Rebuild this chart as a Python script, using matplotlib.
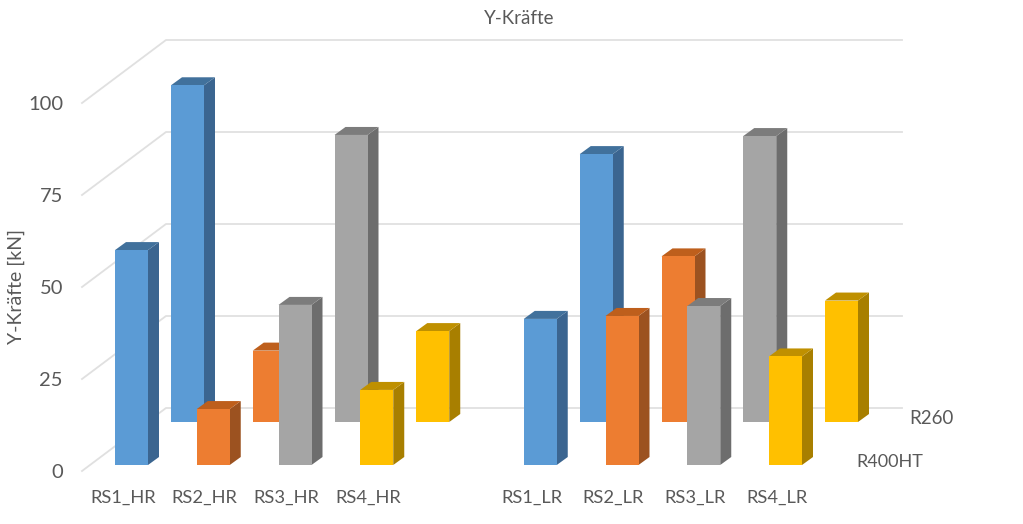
import matplotlib
matplotlib.use("Agg")
import matplotlib.pyplot as plt
from matplotlib.patches import Polygon

plt.rcParams["font.family"] = ["Lato", "DejaVu Sans"]

categories = ["RS1_HR", "RS2_HR", "RS3_HR", "RS4_HR", "RS1_LR", "RS2_LR", "RS3_LR", "RS4_LR"]
slots = [0, 1, 2, 3, 5, 6, 7, 8]
r400ht = [58.4, 15.2, 43.5, 20.4, 39.7, 40.5, 43.2, 29.5]
r260 = [91.5, 19.4, 78.0, 24.7, 72.8, 45.0, 77.7, 33.0]
ticks = [0, 25, 50, 75, 100]

front_colors = ["#5B9BD5", "#ED7D31", "#A5A5A5", "#FFC000"]
side_colors = ["#3B6590", "#9C5220", "#6D6D6D", "#A87F00"]
top_colors = ["#41719C", "#BE5F1C", "#7C7C7C", "#BF9000"]
TEXT = "#595959"
GRID = "#E0E0E0"

# pixel scale of the picture: x is in px, y is in kN
KN_PX = 3.68
X0 = 115
SLOT = 81.75
BAR_W = 33
DX, DY = 11, 8 / KN_PX
BACK_DX, BACK_DY = 56, 43 / KN_PX

fig = plt.figure(figsize=(10.23, 5.24), dpi=100)
ax = fig.add_axes([0, 0, 1, 1])
ax.set_xlim(0, 1023)
ax.set_ylim(-59 / KN_PX, 465 / KN_PX)
ax.axis("off")


def bar(x, base, val, i, z):
    top = base + val
    ax.add_patch(Polygon([(x, base), (x + BAR_W, base), (x + BAR_W, top), (x, top)],
                         fc=front_colors[i], ec="none", zorder=z + 0.2))
    ax.add_patch(Polygon([(x + BAR_W, base), (x + BAR_W + DX, base + DY),
                          (x + BAR_W + DX, top + DY), (x + BAR_W, top)],
                         fc=side_colors[i], ec="none", zorder=z))
    ax.add_patch(Polygon([(x, top), (x + BAR_W, top), (x + BAR_W + DX, top + DY), (x + DX, top + DY)],
                         fc=top_colors[i], ec="none", zorder=z + 0.1))


# walls: floor and value lines
for t in ticks:
    y_front = t - 6 / KN_PX
    y_back = t + 57 / KN_PX
    ax.plot([82, 166, 902], [y_front, y_back, y_back], color=GRID, lw=1.3, zorder=1)
    ax.text(63, t - 8 / KN_PX, str(t), ha="right", va="center", fontsize=14.5, color=TEXT)

for n, (s, v) in enumerate(zip(slots, r260)):
    bar(X0 + s * SLOT + BACK_DX, BACK_DY, v, n % 4, 2 + n * 0.01)
for n, (s, v) in enumerate(zip(slots, r400ht)):
    bar(X0 + s * SLOT, 0, v, n % 4, 3 + n)

for s, c in zip(slots, categories):
    ax.text(X0 + s * SLOT + 8, -33 / KN_PX, c, ha="center", va="center", fontsize=13.2, color=TEXT)

ax.text(519, 447 / KN_PX, "Y-Kräfte", ha="center", va="center", fontsize=13.5, color=TEXT)
ax.text(16, (465 - 286) / KN_PX, "Y-Kräfte [kN]", rotation=90, ha="center", va="center", fontsize=14, color=TEXT)
ax.text(931, (465 - 419) / KN_PX, "R260", ha="center", va="center", fontsize=13.5, color=TEXT)
ax.text(890, (465 - 462) / KN_PX, "R400HT", ha="center", va="center", fontsize=13, color=TEXT)

fig.savefig("out.png", dpi=100)
